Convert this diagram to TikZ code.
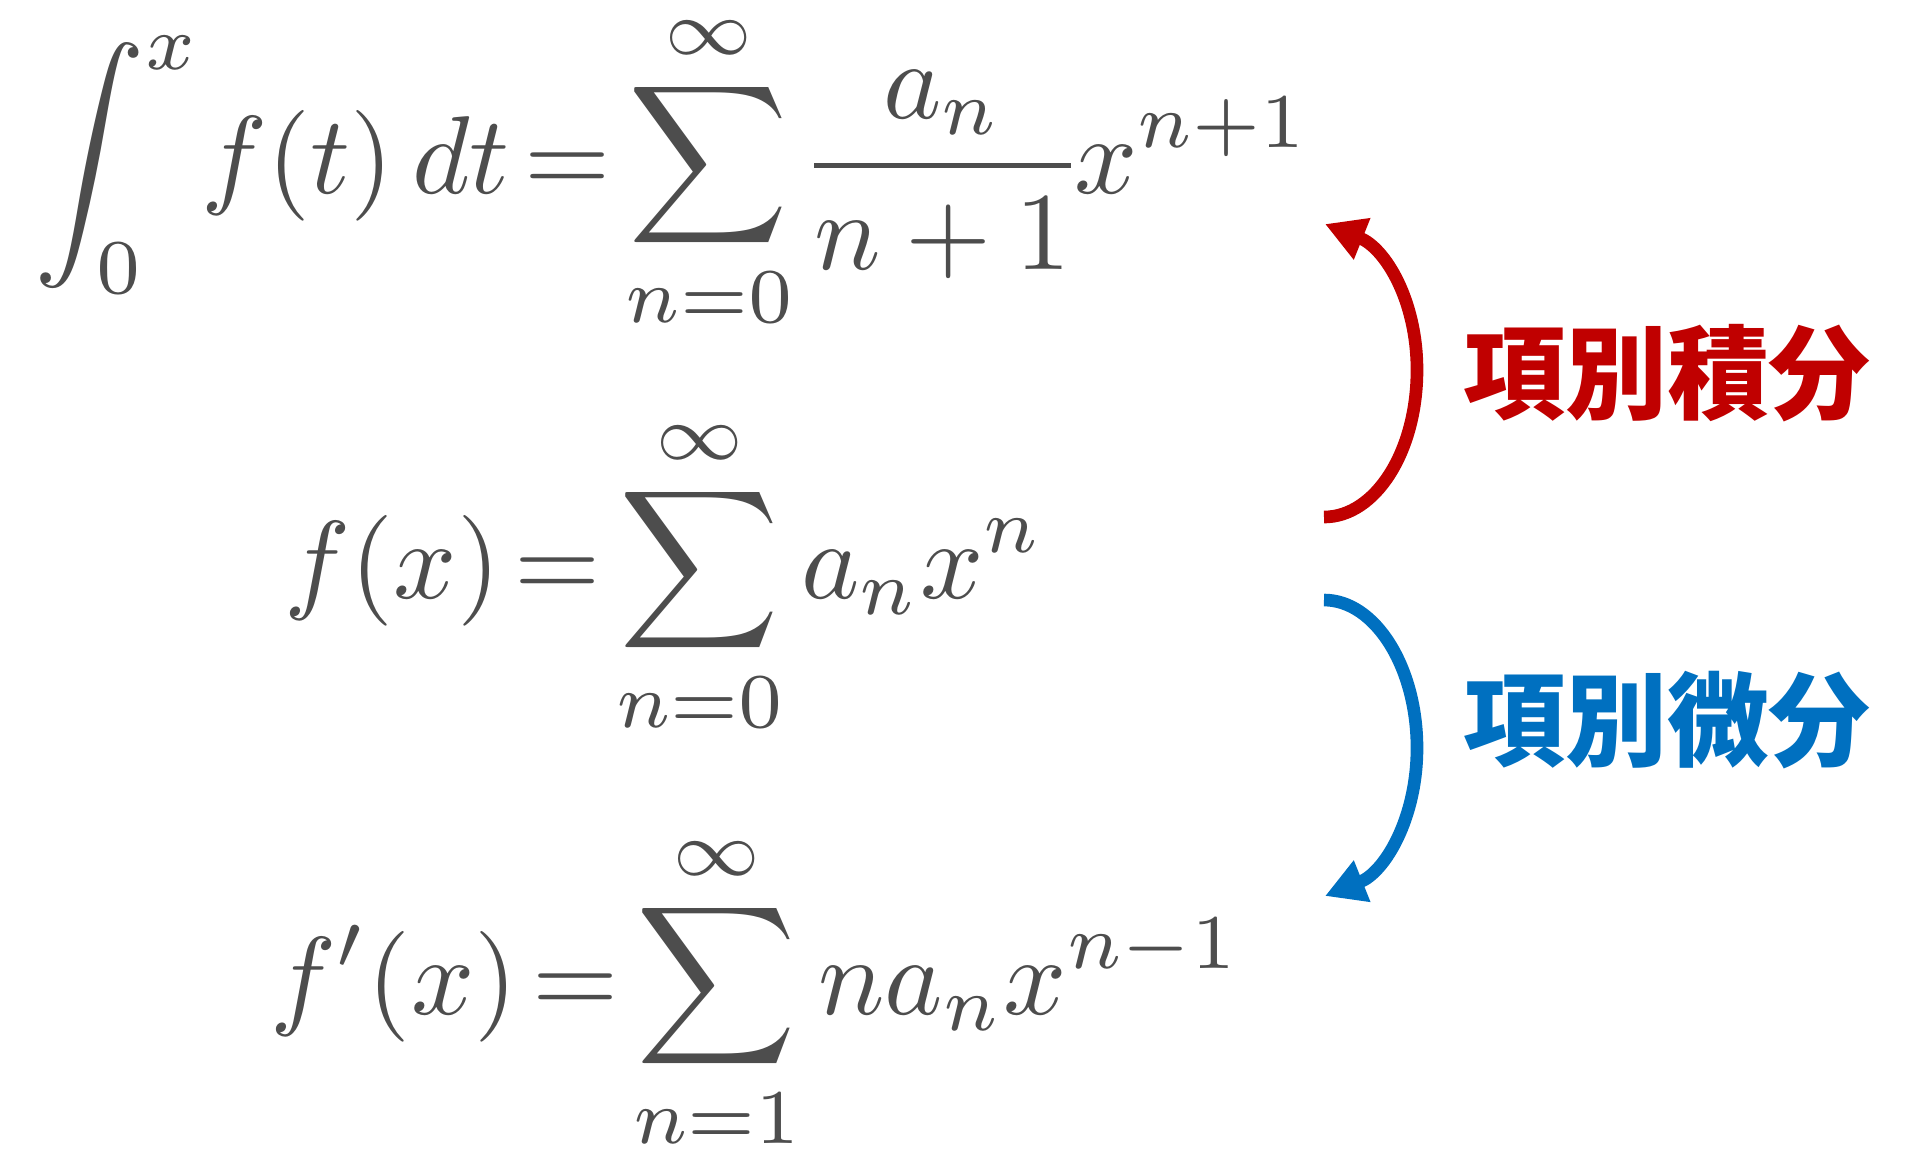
\documentclass[tikz,border=0pt]{standalone}
\usepackage{fontspec}
\usepackage{amsmath}
\usepackage{graphicx}
\usetikzlibrary{arrows.meta}
\newfontfamily\cjk{Noto Sans CJK JP}
\definecolor{eqgray}{HTML}{4D4D4D}
\definecolor{intred}{HTML}{C00000}
\definecolor{difblue}{HTML}{0070C0}
\newcommand{\EqBox}[1]{\scalebox{3.15}{\thickmuskip=2.4mu\nulldelimiterspace=0.3pt$\displaystyle #1$}}
\tikzset{
  eq/.style={inner sep=0pt, text=eqgray},
  lbl/.style={inner sep=0pt, font=\cjk\bfseries\fontsize{29}{34}\selectfont},
  curvearrow/.style={line width=3.6pt, -{Triangle[length=0.40cm,width=0.42cm]}},
}
\begin{document}
\begin{tikzpicture}[x=0.01cm,y=-0.01cm]
\useasboundingbox (0,0) rectangle (1920,1159);
\node[eq, anchor=base west] (e1) at (34,193)
  {\EqBox{\int_0^x\! f(t)\,dt = \sum_{n=0}^{\infty}\frac{a_n}{n+1}x^{n+1}}};
\node[eq, anchor=base west] (e2) at (284,598)
  {\EqBox{f(x) = \sum_{n=0}^{\infty}a_nx^n}};
\node[eq, anchor=base west] (e3) at (270,1014)
  {\EqBox{f'(x) = \sum_{n=1}^{\infty}na_nx^{n-1}}};
\node[lbl, text=intred] (l1) at (1667,373) {項別積分};
\node[lbl, text=difblue] (l2) at (1667,720) {項別微分};
\coordinate (r1) at (1324,517);
\coordinate (rm) at (1417,370);
\coordinate (r2) at (1325,224);
\coordinate (b1) at (1324,600);
\coordinate (bm) at (1417,748);
\coordinate (b2) at (1325,896);
\draw[curvearrow, intred] (r1) .. controls (1375,517) and (1417,452) .. (rm)
  .. controls (1417,300) and (1385,248) .. (r2);
\draw[curvearrow, difblue] (b1) .. controls (1375,600) and (1417,667) .. (bm)
  .. controls (1417,818) and (1385,872) .. (b2);
\end{tikzpicture}
\end{document}
